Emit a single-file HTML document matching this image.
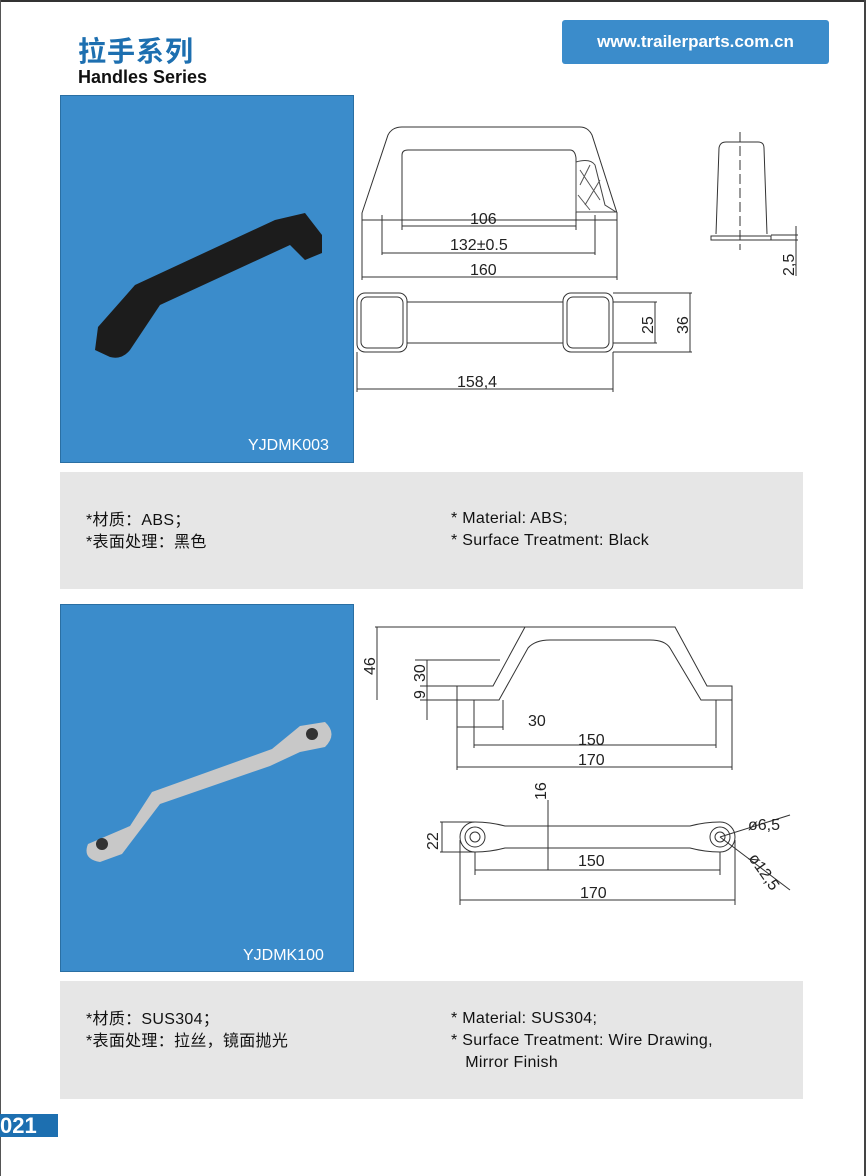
<!DOCTYPE html>
<html><head><meta charset="utf-8"><style>
body{margin:0;width:866px;height:1176px;background:#fff;position:relative;overflow:hidden;font-family:"Liberation Sans","Noto Sans CJK SC",sans-serif}
.a{position:absolute}
.panel{background:#3b8ccb;border:1px solid #2a6fa3}
.grey{background:#e6e6e6}
.t{font-size:16px;color:#111;line-height:22px;letter-spacing:0.3px}
svg text{font-family:"Liberation Sans",sans-serif;font-size:16px;fill:#222}
</style></head><body>
<div class="a" style="left:0;top:0;width:866px;height:2px;background:#333"></div>
<div class="a" style="left:0;top:0;width:1px;height:1176px;background:#555"></div>
<div class="a" style="left:864px;top:0;width:2px;height:1176px;background:#444"></div>
<div class="a" style="left:78px;top:30px;font-size:28px;font-weight:bold;color:#1d6fb0;font-family:'Noto Sans CJK SC',sans-serif;letter-spacing:1px">拉手系列</div>
<div class="a" style="left:78px;top:67px;font-size:18px;font-weight:bold;color:#111">Handles Series</div>
<div class="a" style="left:562px;top:20px;width:267px;height:44px;background:#3b8ccb;border-radius:3px;color:#fff;font-weight:bold;font-size:17px;line-height:44px;text-align:center">www.trailerparts.com.cn</div>

<div class="a panel" style="left:60px;top:95px;width:292px;height:366px"></div>
<svg class="a" style="left:60px;top:95px" width="294" height="368">
<path d="M35 255 L38 232 L75 190 L215 125 L245 118 L262 140 L262 158 L245 165 L230 150 L100 210 L70 255 Q62 265 50 262 Z" fill="#1c1c1c"/>
<text x="188" y="355" style="fill:#fff;font-size:16px">YJDMK003</text>
</svg>
<div class="a grey" style="left:60px;top:472px;width:743px;height:117px"></div>
<div class="a t" style="left:86px;top:510px">*材质：ABS；<br>*表面处理：黑色</div>
<div class="a t" style="left:451px;top:508px">* Material: ABS;<br>* Surface Treatment: Black</div>

<div class="a panel" style="left:60px;top:604px;width:292px;height:366px"></div>
<svg class="a" style="left:60px;top:604px" width="294" height="368">
<path d="M28 240 Q22 255 40 258 L62 250 L100 200 L210 162 L240 148 L265 143 Q278 130 265 118 L240 122 L212 145 L92 188 L70 222 Z" fill="#c8c8c8"/>
<circle cx="42" cy="240" r="6" fill="#333"/><circle cx="252" cy="130" r="6" fill="#333"/>
<text x="183" y="356" style="fill:#fff;font-size:16px">YJDMK100</text>
</svg>
<div class="a grey" style="left:60px;top:981px;width:743px;height:118px"></div>
<div class="a t" style="left:86px;top:1009px">*材质：SUS304；<br>*表面处理：拉丝，镜面抛光</div>
<div class="a t" style="left:451px;top:1008px">* Material: SUS304;<br>* Surface Treatment: Wire Drawing,<br>&nbsp;&nbsp;&nbsp;Mirror Finish</div>

<div class="a" style="left:0;top:1114px;width:58px;height:23px;background:#1d6fb0;color:#fff;font-weight:bold;font-size:22px;line-height:23px">021</div>

<svg class="a" style="left:0;top:0" width="866" height="1176" fill="none" stroke="#333" stroke-width="1">
<path d="M362 213 L388 135 Q392 127 402 127 L580 127 Q588 127 592 135 L617 213 L617 220 L362 220 Z"/>
<path d="M402 212 L402 155 Q402 150 408 150 L570 150 Q575 150 576 158 L576 212"/>
<path d="M576 162 Q590 158 595 165 L605 205 L616 212 L576 212 Z" stroke="#444"/>
<path d="M580 170 L600 200 M590 165 L580 185 M600 180 L585 205 M578 195 L590 210" stroke="#555"/>
<line x1="362" y1="220" x2="362" y2="280"/><line x1="617" y1="220" x2="617" y2="280"/>
<line x1="402" y1="212" x2="402" y2="230"/><line x1="576" y1="212" x2="576" y2="230"/>
<line x1="382" y1="215" x2="382" y2="255"/><line x1="595" y1="215" x2="595" y2="255"/>
<line x1="402" y1="226" x2="576" y2="226"/><line x1="382" y1="253" x2="595" y2="253"/><line x1="362" y1="277" x2="617" y2="277"/>
<rect x="357" y="293" width="50" height="59" rx="8"/><rect x="361" y="297" width="42" height="51" rx="6"/>
<rect x="563" y="293" width="50" height="59" rx="8"/><rect x="567" y="297" width="42" height="51" rx="6"/>
<line x1="407" y1="302" x2="563" y2="302"/><line x1="407" y1="343" x2="563" y2="343"/>
<line x1="613" y1="293" x2="692" y2="293"/><line x1="613" y1="352" x2="692" y2="352"/>
<line x1="613" y1="302" x2="657" y2="302"/><line x1="613" y1="343" x2="657" y2="343"/>
<line x1="655" y1="302" x2="655" y2="343"/><line x1="690" y1="293" x2="690" y2="352"/>
<line x1="357" y1="352" x2="357" y2="392"/><line x1="613" y1="352" x2="613" y2="392"/><line x1="357" y1="389" x2="613" y2="389"/>
<path d="M716 234 L719 148 Q720 142 726 142 L758 142 Q764 142 764 148 L767 234 M711 240 L711 236 L771 236 L771 240 Z"/>
<line x1="740" y1="132" x2="740" y2="250" stroke-dasharray="10,4"/>
<line x1="771" y1="235" x2="798" y2="235"/><line x1="771" y1="240" x2="798" y2="240"/><line x1="796" y1="226" x2="796" y2="276"/>
<path d="M457 686 L493 686 L525 627 L675 627 L707 686 L732 686 L732 700 L701 700 L670 648 Q665 640 650 640 L550 640 Q535 640 528 648 L499 700 L457 700 Z"/>
<line x1="375" y1="627" x2="525" y2="627"/><line x1="415" y1="660" x2="500" y2="660"/><line x1="420" y1="686" x2="457" y2="686"/><line x1="420" y1="700" x2="457" y2="700"/>
<line x1="377" y1="627" x2="377" y2="700"/><line x1="427" y1="660" x2="427" y2="720"/>
<line x1="457" y1="700" x2="457" y2="770"/><line x1="732" y1="700" x2="732" y2="770"/>
<line x1="474" y1="700" x2="474" y2="748"/><line x1="716" y1="700" x2="716" y2="748"/><line x1="503" y1="700" x2="503" y2="730"/>
<line x1="457" y1="727" x2="503" y2="727"/><line x1="474" y1="745" x2="716" y2="745"/><line x1="457" y1="767" x2="732" y2="767"/>
<path d="M475 822 Q490 822 505 826 L690 826 Q705 822 720 822 A15 15 0 0 1 720 852 Q705 852 690 848 L505 848 Q490 852 475 852 A15 15 0 0 1 475 822 Z"/>
<circle cx="475" cy="837" r="10"/><circle cx="475" cy="837" r="5"/><circle cx="720" cy="837" r="10"/><circle cx="720" cy="837" r="5"/>
<line x1="548" y1="800" x2="548" y2="870"/>
<line x1="440" y1="822" x2="475" y2="822"/><line x1="440" y1="852" x2="475" y2="852"/><line x1="442" y1="822" x2="442" y2="852"/>
<line x1="475" y1="852" x2="475" y2="875"/><line x1="720" y1="852" x2="720" y2="875"/><line x1="475" y1="870" x2="720" y2="870"/>
<line x1="460" y1="840" x2="460" y2="905"/><line x1="735" y1="840" x2="735" y2="905"/><line x1="460" y1="900" x2="735" y2="900"/>
<line x1="720" y1="837" x2="790" y2="815"/><line x1="720" y1="837" x2="790" y2="890"/>
</svg>
<svg class="a" style="left:0;top:0" width="866" height="1176">
<text x="470" y="224">106</text><text x="450" y="250">132±0.5</text><text x="470" y="275">160</text>
<text x="457" y="387">158,4</text>
<text transform="translate(653 334) rotate(-90)">25</text><text transform="translate(688 334) rotate(-90)">36</text>
<text transform="translate(794 276) rotate(-90)">2,5</text>
<text transform="translate(375 675) rotate(-90)">46</text><text transform="translate(425 682) rotate(-90)">30</text><text transform="translate(425 699) rotate(-90)">9</text>
<text x="528" y="726">30</text><text x="578" y="745">150</text><text x="578" y="765">170</text>
<text transform="translate(546 800) rotate(-90)">16</text><text transform="translate(438 850) rotate(-90)">22</text>
<text x="578" y="866">150</text><text x="580" y="898">170</text>
<text x="748" y="830">ø6,5</text><text transform="translate(748 858) rotate(55)">ø12,5</text>
</svg>
</body></html>
